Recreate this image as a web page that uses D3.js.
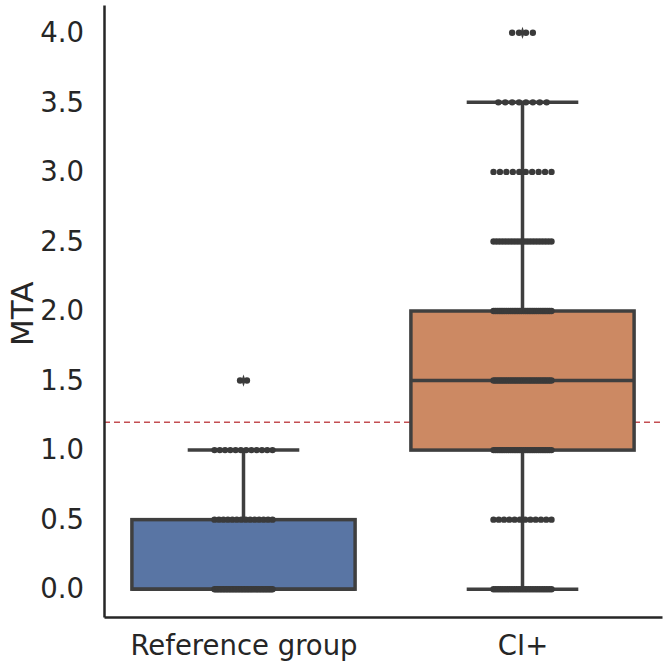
<!DOCTYPE html>
<html>
<head>
<meta charset="utf-8">
<script src="https://cdn.jsdelivr.net/npm/d3@7"></script>
<style>
  body { margin: 0; background: #fff; }
  svg { font-family: "DejaVu Sans", sans-serif; }
</style>
</head>
<body>
<svg id="chart" width="669" height="668"></svg>
<script>
// categories and box stats
var groups = ["Reference group", "CI+"]
var boxColors = ["#5975a4", "#cc8963"]
var q1 = [0.0, 1.0]
var median = [0.0, 1.5]
var q3 = [0.5, 2.0]
var whiskLow = [0.0, 0.0]
var whiskHigh = [1.0, 3.5]
var outliers = [[1.5], [4.0]]

// swarm: value levels and number of observations at each level
var refLevels = [0.0, 0.5, 1.0, 1.5]
var refCounts = [40, 14, 12, 2]
var ciLevels = [0.0, 0.5, 1.0, 1.5, 2.0, 2.5, 3.0, 3.5, 4.0]
var ciCounts = [26, 12, 32, 32, 32, 20, 10, 8, 4]

var threshold = 1.2
var yTicks = [0, 0.5, 1, 1.5, 2, 2.5, 3, 3.5, 4]

var svg = d3.select("#chart")

var dimensions = {
    width: 669,
    height: 668,
    margin: { top: 5, bottom: 51, left: 104, right: 7 }
}

var xScale = d3.scaleLinear()
               .domain([-0.5, 1.5])
               .range([dimensions.margin.left, dimensions.width - dimensions.margin.right])
var yScale = d3.scaleLinear()
               .domain([-0.2, 4.2])
               .range([dimensions.height - dimensions.margin.bottom, dimensions.margin.top])

var lineColor = "#3f3f3f"
var bandPx = xScale(1) - xScale(0)
var boxW = 0.8 * bandPx
var lw = 3.5

// threshold line
svg.append("line")
   .attr("x1", xScale(-0.5))
   .attr("x2", xScale(1.5))
   .attr("y1", yScale(threshold))
   .attr("y2", yScale(threshold))
   .attr("stroke", "#c44e52")
   .attr("stroke-width", 1.5)
   .attr("stroke-dasharray", "6,4")

// boxes
var boxes = svg.append("g")
groups.forEach(function(g, i) {
    var cx = xScale(i)
    var bg = boxes.append("g")
    // whiskers
    bg.append("line").attr("x1", cx).attr("x2", cx)
      .attr("y1", yScale(q3[i])).attr("y2", yScale(whiskHigh[i]))
      .attr("stroke", lineColor).attr("stroke-width", lw)
    bg.append("line").attr("x1", cx).attr("x2", cx)
      .attr("y1", yScale(q1[i])).attr("y2", yScale(whiskLow[i]))
      .attr("stroke", lineColor).attr("stroke-width", lw)
    ;[whiskLow[i], whiskHigh[i]].forEach(function(v) {
        bg.append("line").attr("x1", cx - boxW / 4).attr("x2", cx + boxW / 4)
          .attr("y1", yScale(v)).attr("y2", yScale(v))
          .attr("stroke", lineColor).attr("stroke-width", lw)
    })
    bg.append("rect")
      .attr("x", cx - boxW / 2)
      .attr("width", boxW)
      .attr("y", yScale(q3[i]))
      .attr("height", yScale(q1[i]) - yScale(q3[i]))
      .attr("fill", boxColors[i])
      .attr("stroke", lineColor)
      .attr("stroke-width", lw)
    bg.append("line").attr("x1", cx - boxW / 2).attr("x2", cx + boxW / 2)
      .attr("y1", yScale(median[i])).attr("y2", yScale(median[i]))
      .attr("stroke", lineColor).attr("stroke-width", lw)
    // fliers
    outliers[i].forEach(function(v) {
        bg.append("path")
          .attr("d", d3.symbol().type(d3.symbolDiamond).size(30))
          .attr("transform", `translate(${cx},${yScale(v)}) scale(0.7,1.2)`)
          .attr("fill", lineColor)
    })
})

// swarm points (simple layout: spread identical values around the centre)
var dotR = 3.2
var maxHalf = 29
function swarm(levels, counts, idx) {
    var pts = []
    levels.forEach(function(v, k) {
        var n = counts[k]
        var step = n > 1 ? Math.min(2 * dotR + 0.5, 2 * maxHalf / (n - 1)) : 0
        for (var j = 0; j < n; j++) {
            pts.push({ group: idx, value: v, off: (j - (n - 1) / 2) * step })
        }
    })
    return pts
}
var points = swarm(refLevels, refCounts, 0).concat(swarm(ciLevels, ciCounts, 1))

svg.append("g")
   .selectAll("circle")
   .data(points)
   .enter()
   .append("circle")
   .attr("cx", d => xScale(d.group) + d.off)
   .attr("cy", d => yScale(d.value))
   .attr("r", dotR)
   .attr("fill", "#3a3a3a")

// axes
var yAxisGen = d3.axisLeft().scale(yScale).tickValues(yTicks).tickFormat(d3.format(".1f")).tickSize(0).tickPadding(20)
var yAxis = svg.append("g")
               .call(yAxisGen)
               .attr("transform", `translate(${dimensions.margin.left},0)`)
yAxis.select(".domain").attr("stroke", "#262626").attr("stroke-width", 2.5)
yAxis.selectAll("text").attr("font-size", 27.5).attr("fill", "#262626").attr("font-family", "DejaVu Sans")

var xAxisGen = d3.axisBottom().scale(xScale).tickValues([0, 1]).tickFormat(d => groups[d]).tickSize(0).tickPadding(18)
var xAxis = svg.append("g")
               .call(xAxisGen)
               .attr("transform", `translate(0,${dimensions.height - dimensions.margin.bottom})`)
xAxis.select(".domain").attr("stroke", "#262626").attr("stroke-width", 2.5)
xAxis.selectAll("text").attr("font-size", 27.5).attr("fill", "#262626").attr("font-family", "DejaVu Sans")

svg.append("text")
   .attr("text-anchor", "middle")
   .attr("transform", `translate(33, ${yScale(1.98)}) rotate(-90)`)
   .attr("font-size", 31)
   .attr("fill", "#262626")
   .text("MTA")
</script>
</body>
</html>
